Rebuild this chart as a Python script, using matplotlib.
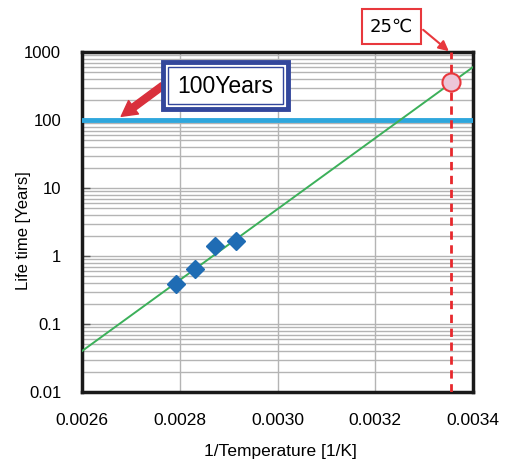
import numpy as np
import matplotlib
matplotlib.use('Agg')
import matplotlib.pyplot as plt
from matplotlib.patches import Rectangle
from matplotlib.ticker import LogLocator, NullFormatter, FixedLocator

plt.rcParams['font.family'] = ['Liberation Sans', 'DejaVu Sans']

# measured points (test temperatures in K) and lifetimes in years
temp_k = [358.15, 353.15, 348.15, 343.15]
life_years = [0.39, 0.64, 1.4, 1.66]

# fitted Arrhenius line, end points
fit_x = [0.0026, 0.0034]
fit_y = [0.04, 600]

target_years = 100
room_temp_k = 298.15
room_life = 363

x_ticks = [0.0026, 0.0028, 0.0030, 0.0032, 0.0034]
x_labels = ['0.0026', '0.0028', '0.0030', '0.0032', '0.0034']
y_ticks = [0.01, 0.1, 1, 10, 100, 1000]
y_labels = ['0.01', '0.1', '1', '10', '100', '1000']

fig = plt.figure(figsize=(5.07, 4.61), dpi=100)
ax = fig.add_axes([82 / 507, 69 / 461, 391 / 507, 340 / 461])

ax.set_yscale('log')
ax.set_xlim(0.0026, 0.0034)
ax.set_ylim(0.01, 1000)

ax.xaxis.set_major_locator(FixedLocator(x_ticks))
ax.set_xticklabels(x_labels)
ax.yaxis.set_major_locator(FixedLocator(y_ticks))
ax.set_yticklabels(y_labels)
ax.yaxis.set_minor_locator(LogLocator(base=10, subs=np.arange(2, 10)))
ax.yaxis.set_minor_formatter(NullFormatter())

ax.grid(True, which='major', axis='both', color='#b4b4b4', lw=1)
ax.grid(True, which='minor', axis='y', color='#b4b4b4', lw=1)
ax.set_axisbelow(True)

ax.tick_params(axis='y', which='major', direction='in', length=6,
               width=1, color='#555555', labelsize=12, pad=15)
ax.tick_params(axis='y', which='minor', length=0)
ax.tick_params(axis='x', which='major', length=0, labelsize=12.5, pad=15)
for s in ax.spines.values():
    s.set_linewidth(2.5)
    s.set_color('#1a1a1a')

ax.set_xlabel('1/Temperature [1/K]', fontsize=12.5)
ax.set_ylabel('Life time [Years]', fontsize=12)
ax.xaxis.set_label_coords(0.508, -0.153)
ax.yaxis.set_label_coords(-0.13, 0.474)

# target lifetime line
ax.axhline(target_years, color='#2ea6dc', lw=3.5, zorder=3)

# fit line and data
ax.plot(fit_x, fit_y, color='#3cb05a', lw=1.4, zorder=4)
inv_t = [1 / t for t in temp_k]
ax.plot(inv_t, life_years, 'D', color='#1f6cb4', ms=9.5, zorder=5)

# room temperature marker
x25 = 1 / room_temp_k
ax.axvline(x25, color='#e8282d', lw=2, ls=(0, (3, 2)), zorder=6)
ax.plot([x25], [room_life], 'o', ms=13, mfc='#ecc6d8', mec='#e8383d',
        mew=1.5, zorder=7)


def px(xp, yp):
    # figure pixel (from top-left) -> figure fraction
    return xp / 507, 1 - yp / 461


# "100Years" callout
bx0, by0 = px(163, 109)
bx1, by1 = px(288, 62)
fig.patches.append(Rectangle((bx0, by0), bx1 - bx0, by1 - by0,
                             transform=fig.transFigure, fc='white',
                             ec='#33479c', lw=3.5, zorder=10))
ix0, iy0 = px(168, 104)
ix1, iy1 = px(283, 67)
fig.patches.append(Rectangle((ix0, iy0), ix1 - ix0, iy1 - iy0,
                             transform=fig.transFigure, fc='none',
                             ec='#33479c', lw=1, zorder=11))
fig.text((bx0 + bx1) / 2, (by0 + by1) / 2 - 0.002, '100Years', fontsize=16.5,
         ha='center', va='center', zorder=12)
ax.annotate('', xy=px(119, 118), xycoords='figure fraction',
            xytext=px(165, 84), textcoords='figure fraction',
            arrowprops=dict(arrowstyle='simple,head_width=1.2,head_length=1.1,tail_width=0.5',
                            fc='#d9303c', ec='#d9303c'), zorder=9)

# "25℃" callout
cx0, cy0 = px(362, 44)
cx1, cy1 = px(421, 9)
fig.patches.append(Rectangle((cx0, cy0), cx1 - cx0, cy1 - cy0,
                             transform=fig.transFigure, fc='white',
                             ec='#e8383d', lw=1.5, zorder=10))
fig.text((cx0 + cx1) / 2, (cy0 + cy1) / 2, '25℃', fontsize=13,
         ha='center', va='center', family=['DejaVu Sans'], zorder=12)
ax.annotate('', xy=px(451, 53), xycoords='figure fraction',
            xytext=px(421, 28), textcoords='figure fraction',
            arrowprops=dict(arrowstyle='-|>,head_width=0.3,head_length=0.6',
                            color='#e8383d', lw=1.5), zorder=9)

fig.savefig('out.png', dpi=100)
